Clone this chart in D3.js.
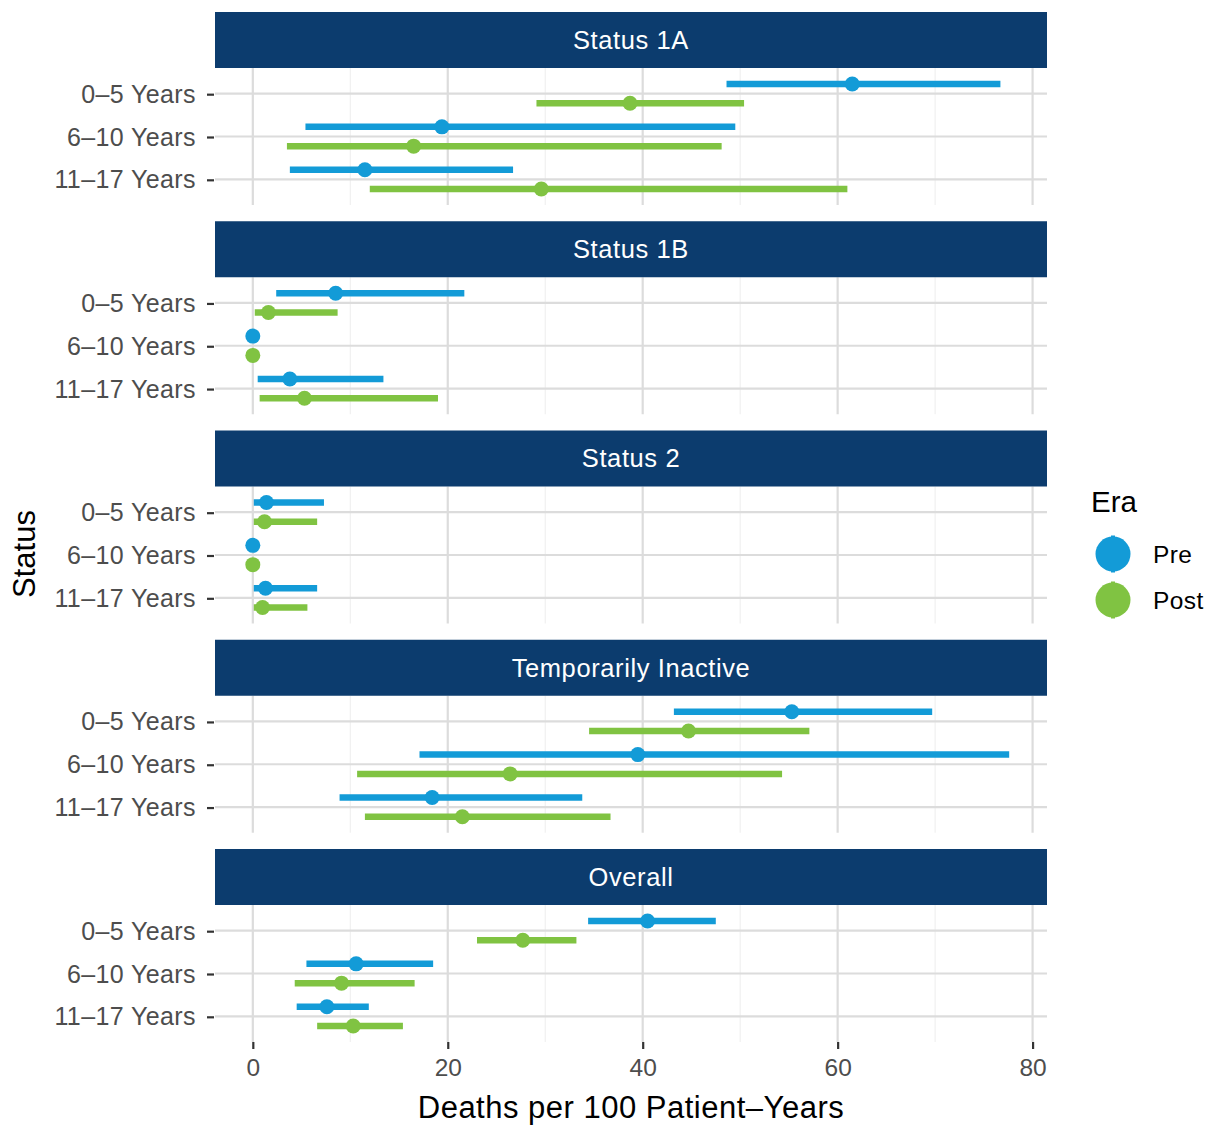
<!DOCTYPE html>
<html>
<head>
<meta charset="utf-8">
<script src="https://cdn.jsdelivr.net/npm/d3@7"></script>
<style>
  html, body { margin: 0; padding: 0; background: #ffffff; }
  svg { display: block; font-family: "Liberation Sans", Arial, Helvetica, sans-serif; }
</style>
</head>
<body>
<svg id="chart" width="1208" height="1126"></svg>
<script>
// Mortality rates by listing status, age group and era
const statuses = ["Status 1A", "Status 1B", "Status 2", "Temporarily Inactive", "Overall"];
const ageGroups = ["0–5 Years", "6–10 Years", "11–17 Years"];
const eras = ["Pre", "Post"];
const xTicks = [0, 20, 40, 60, 80];

// one row per status, one entry per age group
const preEst = [[61.5, 19.4, 11.5], [8.5, 0, 3.8], [1.4, 0, 1.3], [55.3, 39.5, 18.4], [40.5, 10.6, 7.6]];
const preLow = [[48.6, 5.4, 3.8], [2.4, 0, 0.5], [0.1, 0, 0.1], [43.2, 17.1, 8.9], [34.4, 5.5, 4.5]];
const preHigh = [[76.7, 49.5, 26.7], [21.7, 0, 13.4], [7.3, 0, 6.6], [69.7, 77.6, 33.8], [47.5, 18.5, 11.9]];

const postEst = [[38.7, 16.5, 29.6], [1.6, 0, 5.3], [1.2, 0, 1.0], [44.7, 26.4, 21.5], [27.7, 9.1, 10.3]];
const postLow = [[29.1, 3.5, 12.0], [0.2, 0, 0.7], [0.1, 0, 0.1], [34.5, 10.7, 11.5], [23.0, 4.3, 6.6]];
const postHigh = [[50.4, 48.1, 61.0], [8.7, 0, 19.0], [6.6, 0, 5.6], [57.1, 54.3, 36.7], [33.2, 16.6, 15.4]];

const eraColor = { Pre: "#139bd7", Post: "#80c342" };

// long-form rows built from the arrays above
const rows = [];
statuses.forEach((s, i) => {
  ageGroups.forEach((a, j) => {
    rows.push({ status: s, age: a, era: "Pre", est: preEst[i][j], lo: preLow[i][j], hi: preHigh[i][j] });
    rows.push({ status: s, age: a, era: "Post", est: postEst[i][j], lo: postLow[i][j], hi: postHigh[i][j] });
  });
});

const svg = d3.select("#chart");

// layout
const panelLeft = 215, panelRight = 1047;
const firstTop = 12, stripH = 56, panelH = 137, gap = 16.25;

// x scale with a 5% expansion of the data range on both sides
const allVals = rows.flatMap(d => [d.lo, d.hi, d.est]);
const xmin = d3.min(allVals), xmax = d3.max(allVals);
const pad = (xmax - xmin) * 0.05;
const x = d3.scaleLinear().domain([xmin - pad, xmax + pad]).range([panelLeft, panelRight]);

const dodge = 0.225;

statuses.forEach((s, i) => {
  const top = firstTop + i * (stripH + panelH + gap);
  const pTop = top + stripH;
  const pBottom = pTop + panelH;
  const g = svg.append("g");

  const y = d3.scalePoint().domain(ageGroups).range([pTop, pBottom]).padding(0.6);
  const step = y.step();

  // minor vertical gridlines
  g.selectAll(".minor").data([10, 30, 50, 70]).join("line")
    .attr("x1", d => x(d)).attr("x2", d => x(d))
    .attr("y1", pTop).attr("y2", pBottom)
    .attr("stroke", "#efefef").attr("stroke-width", 1.1);

  // major vertical gridlines
  g.selectAll(".majorx").data(xTicks).join("line")
    .attr("x1", d => x(d)).attr("x2", d => x(d))
    .attr("y1", pTop).attr("y2", pBottom)
    .attr("stroke", "#dcdcdc").attr("stroke-width", 2.2);

  // horizontal gridlines
  g.selectAll(".majory").data(ageGroups).join("line")
    .attr("x1", panelLeft).attr("x2", panelRight)
    .attr("y1", d => y(d)).attr("y2", d => y(d))
    .attr("stroke", "#dcdcdc").attr("stroke-width", 2.2);

  // strip
  g.append("rect").attr("x", panelLeft).attr("y", top)
    .attr("width", panelRight - panelLeft).attr("height", stripH)
    .attr("fill", "#0c3c6e");
  g.append("text").attr("x", (panelLeft + panelRight) / 2).attr("y", top + stripH / 2)
    .attr("dy", "0.35em").attr("text-anchor", "middle")
    .attr("fill", "#ffffff").attr("font-size", 25.5).attr("letter-spacing", 0.6).text(s);

  // y axis ticks and labels
  const yAxis = d3.axisLeft(y).tickSize(7).tickPadding(11);
  const ax = g.append("g").attr("transform", `translate(${panelLeft - 1},0.5)`).call(yAxis);
  ax.select(".domain").remove();
  ax.selectAll(".tick line").attr("stroke", "#333333").attr("stroke-width", 2.2);
  ax.selectAll(".tick text").attr("fill", "#4d4d4d").attr("font-size", 25)
    .attr("letter-spacing", 0.4)
    .attr("font-family", "Liberation Sans, Arial, sans-serif");

  // point ranges
  const data = rows.filter(d => d.status === s);
  const yPos = d => y(d.age) + (d.era === "Pre" ? -dodge : dodge) * step;

  g.selectAll(".range").data(data).join("line")
    .attr("x1", d => x(d.lo)).attr("x2", d => x(d.hi))
    .attr("y1", yPos).attr("y2", yPos)
    .attr("stroke", d => eraColor[d.era]).attr("stroke-width", 6.5);

  g.selectAll(".pt").data(data).join("circle")
    .attr("cx", d => x(d.est)).attr("cy", yPos).attr("r", 7.5)
    .attr("fill", d => eraColor[d.era]);

  // x axis on the bottom panel
  if (i === statuses.length - 1) {
    const xAxis = d3.axisBottom(x).tickValues(xTicks).tickSize(7).tickPadding(10).tickFormat(d3.format("d"));
    const bx = g.append("g").attr("transform", `translate(0,${pBottom})`).call(xAxis);
    bx.select(".domain").remove();
    bx.selectAll(".tick line").attr("stroke", "#333333").attr("stroke-width", 2.2);
    bx.selectAll(".tick text").attr("fill", "#4d4d4d").attr("font-size", 24.5)
      .attr("font-family", "Liberation Sans, Arial, sans-serif");
  }
});

// axis titles
svg.append("text").attr("x", (panelLeft + panelRight) / 2).attr("y", 1118)
  .attr("text-anchor", "middle").attr("font-size", 31).attr("letter-spacing", 0.5).attr("fill", "#000")
  .text("Deaths per 100 Patient–Years");

svg.append("text").attr("transform", "translate(35,554) rotate(-90)")
  .attr("text-anchor", "middle").attr("font-size", 31).attr("fill", "#000")
  .text("Status");

// legend
const legend = svg.append("g");
legend.append("text").attr("x", 1091).attr("y", 512).attr("font-size", 29.5).attr("fill", "#000").text("Era");
const keyY = d3.scalePoint().domain(eras).range([554, 600]);
eras.forEach(e => {
  const cy = keyY(e);
  legend.append("line").attr("x1", 1113).attr("x2", 1113).attr("y1", cy - 18.5).attr("y2", cy + 18.5)
    .attr("stroke", eraColor[e]).attr("stroke-width", 4);
  legend.append("circle").attr("cx", 1113).attr("cy", cy).attr("r", 17.5).attr("fill", eraColor[e]);
  legend.append("text").attr("x", 1153).attr("y", cy).attr("dy", "0.35em")
    .attr("font-size", 24.5).attr("letter-spacing", 0.4).attr("fill", "#000").text(e);
});
</script>
</body>
</html>
